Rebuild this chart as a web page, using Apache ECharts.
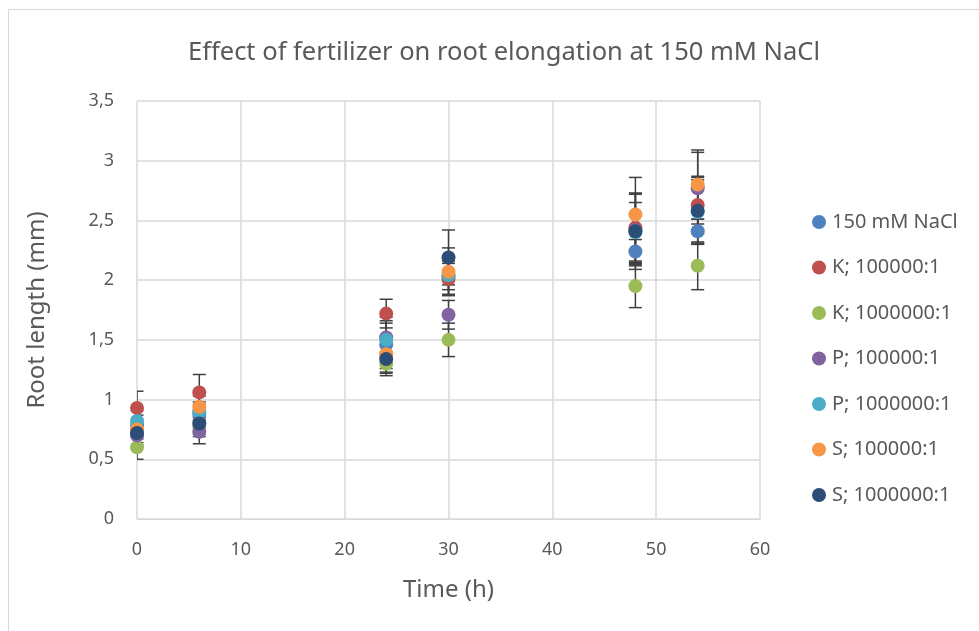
<!DOCTYPE html>
<html>
<head>
<meta charset="utf-8">
<script src="https://cdn.jsdelivr.net/npm/echarts@6/dist/echarts.min.js"></script>
<style>html,body{margin:0;padding:0;background:#fff;}#c{width:979px;height:631px;}</style>
</head>
<body>
<div id="c"></div>
<script>
const times = [0, 6, 24, 30, 48, 54];
const seriesNames = ['150 mM NaCl','K; 100000:1','K; 1000000:1','P; 100000:1','P; 1000000:1','S; 100000:1','S; 1000000:1'];
const colors = ['#4F81BD','#C0504D','#9BBB59','#8064A2','#4BACC6','#F79646','#2C4D75'];

const nacl    = [0.78, 0.88, 1.46, 2.03, 2.24, 2.41];
const k5      = [0.93, 1.06, 1.72, 2.01, 2.44, 2.63];
const k6      = [0.60, 0.77, 1.30, 1.50, 1.95, 2.12];
const p5      = [0.70, 0.73, 1.52, 1.71, 2.42, 2.77];
const p6      = [0.82, 0.90, 1.50, 2.04, 2.40, 2.57];
const s5      = [0.75, 0.94, 1.38, 2.07, 2.55, 2.80];
const s6      = [0.72, 0.80, 1.34, 2.19, 2.41, 2.58];

const naclErr = [0.09, 0.08, 0.20, 0.15, 0.10, 0.10];
const k5Err   = [0.14, 0.15, 0.12, 0.13, 0.28, 0.24];
const k6Err   = [0.10, 0.08, 0.10, 0.14, 0.18, 0.20];
const p5Err   = [0.08, 0.10, 0.17, 0.12, 0.30, 0.30];
const p6Err   = [0.09, 0.08, 0.14, 0.12, 0.25, 0.27];
const s5Err   = [0.08, 0.09, 0.15, 0.20, 0.31, 0.29];
const s6Err   = [0.08, 0.09, 0.12, 0.23, 0.32, 0.28];

const yTicks = [0, 0.5, 1, 1.5, 2, 2.5, 3, 3.5];
const xTicks = [0, 10, 20, 30, 40, 50, 60];

const values = [nacl, k5, k6, p5, p6, s5, s6];
const errors = [naclErr, k5Err, k6Err, p5Err, p6Err, s5Err, s6Err];

const font = '"Noto Sans", "DejaVu Sans", sans-serif';
const textColor = '#595959';

const series = [];
values.forEach((vals, i) => {
  series.push({
    type: 'custom',
    name: seriesNames[i] + ' err',
    z: 1,
    clip: true,
    silent: true,
    data: times.map((t, j) => [t, vals[j] - errors[i][j], vals[j] + errors[i][j]]),
    encode: { x: 0, y: [1, 2] },
    renderItem: function (params, api) {
      const lo = api.coord([api.value(0), api.value(1)]);
      const hi = api.coord([api.value(0), api.value(2)]);
      const cw = 6.5;
      const st = { stroke: '#404040', lineWidth: 1.5 };
      return {
        type: 'group',
        children: [
          { type: 'line', shape: { x1: lo[0], y1: lo[1], x2: hi[0], y2: hi[1] }, style: st },
          { type: 'line', shape: { x1: lo[0] - cw, y1: lo[1], x2: lo[0] + cw, y2: lo[1] }, style: st },
          { type: 'line', shape: { x1: hi[0] - cw, y1: hi[1], x2: hi[0] + cw, y2: hi[1] }, style: st }
        ]
      };
    }
  });
});
values.forEach((vals, i) => {
  series.push({
    type: 'scatter',
    name: seriesNames[i],
    z: 5,
    symbol: 'circle',
    symbolSize: 14,
    itemStyle: { color: colors[i], opacity: 1 },
    data: times.map((t, j) => [t, vals[j]])
  });
});

const chart = echarts.init(document.getElementById('c'));
chart.setOption({
  animation: false,
  backgroundColor: '#fff',
  color: colors,
  title: {
    text: 'Effect of fertilizer on root elongation at 150 mM NaCl',
    left: 499,
    textAlign: 'center',
    top: 35,
    textStyle: { fontFamily: font, fontSize: 25.5, fontWeight: 'normal', color: textColor }
  },
  graphic: [{
    type: 'rect',
    shape: { x: 8.5, y: 9.5, width: 1100, height: 1100 },
    style: { fill: 'none', stroke: '#d9d9d9', lineWidth: 1 },
    silent: true
  }],
  legend: {
    orient: 'vertical',
    left: 807,
    top: 207,
    icon: 'circle',
    itemWidth: 14,
    itemHeight: 14,
    itemGap: 25.5,
    data: seriesNames,
    textStyle: { fontFamily: font, fontSize: 20, lineHeight: 20, color: textColor, padding: [0, 0, 0, 1] }
  },
  grid: { left: 137, right: 219, top: 101, bottom: 112, containLabel: false },
  xAxis: {
    type: 'value',
    min: 0, max: 60, interval: 10,
    name: 'Time (h)',
    nameLocation: 'middle',
    nameGap: 59,
    nameTextStyle: { fontFamily: font, fontSize: 24, color: textColor },
    axisLine: { show: true, lineStyle: { color: '#d9d9d9', width: 1 } },
    axisTick: { show: false },
    axisLabel: { fontFamily: font, fontSize: 18, color: textColor, margin: 22,
      formatter: v => xTicks.includes(v) ? String(v) : '' },
    splitLine: { show: true, lineStyle: { color: '#d9d9d9', width: 1.5 } }
  },
  yAxis: {
    type: 'value',
    min: 0, max: 3.5, interval: 0.5,
    name: 'Root length (mm)',
    nameLocation: 'middle',
    nameRotate: 90,
    nameGap: 88,
    nameTextStyle: { fontFamily: font, fontSize: 24, color: textColor },
    axisLine: { show: false },
    axisTick: { show: false },
    axisLabel: { fontFamily: font, fontSize: 18, color: textColor, margin: 23,
      formatter: v => yTicks.includes(v) ? String(v).replace('.', ',') : '' },
    splitLine: { show: true, lineStyle: { color: '#d9d9d9', width: 1.5 } }
  },
  series: series
});
</script>
</body>
</html>
